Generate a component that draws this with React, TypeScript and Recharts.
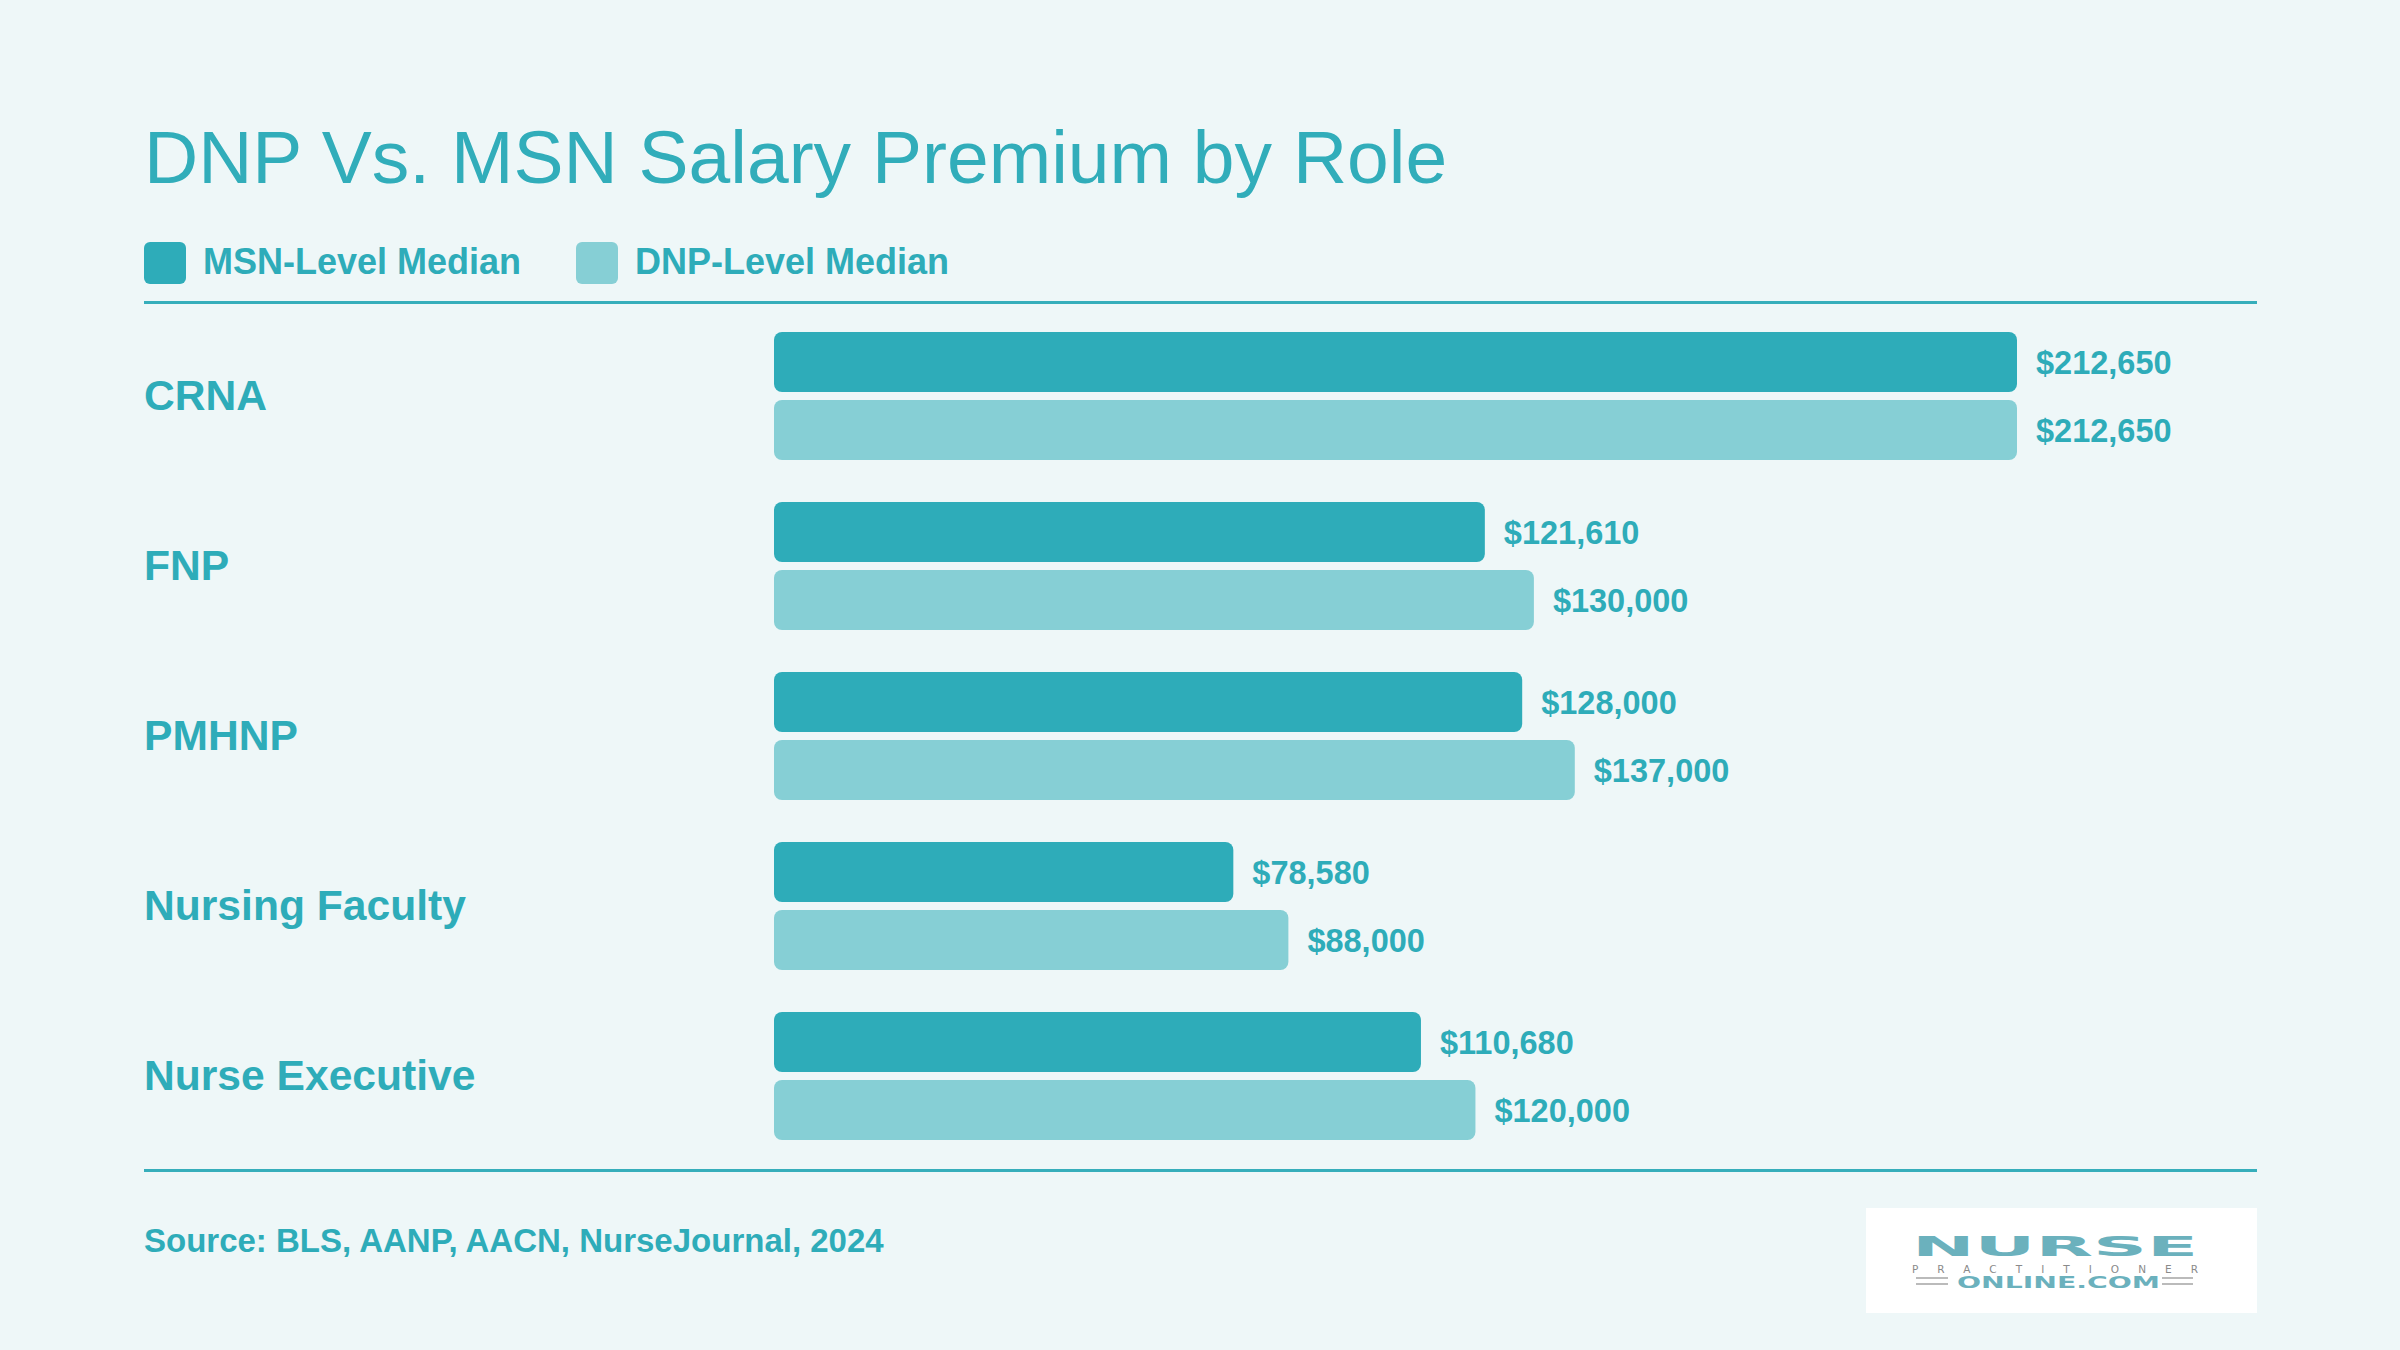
import React from 'react';
import { BarChart, Bar, XAxis, YAxis, LabelList } from 'recharts';

// Median salaries by role, MSN vs DNP
const ROLES = ['CRNA', 'FNP', 'PMHNP', 'Nursing Faculty', 'Nurse Executive'];
const MSN_MEDIAN = [212650, 121610, 128000, 78580, 110680];
const DNP_MEDIAN = [212650, 130000, 137000, 88000, 120000];

const SERIES_NAMES = ['MSN-Level Median', 'DNP-Level Median'];
const SOURCE_NOTE = 'Source: BLS, AANP, AACN, NurseJournal, 2024';

const TEAL = '#2EACB9';
const TEAL_LIGHT = '#86CFD5';
const BG = '#EEF7F8';
const FONT = '"Liberation Sans", Arial, Helvetica, sans-serif';

const data = ROLES.map((role, i) => ({
  role,
  msn: MSN_MEDIAN[i],
  dnp: DNP_MEDIAN[i],
}));

const money = (v: number) => '$' + v.toLocaleString('en-US');

const RoleTick = (props: any) => {
  const { y, payload } = props;
  return (
    <text x={144} y={y} dy={14} fill={TEAL} fontSize={42.6} fontWeight={700} fontFamily={FONT} textAnchor="start">
      {payload.value}
    </text>
  );
};

const Logo = () => (
  <div style={{ position: 'absolute', left: 1866, top: 1208, width: 391, height: 105, background: '#fff' }}>
    <svg width={391} height={105}>
      <text x={46} y={48} textLength={286} lengthAdjust="spacingAndGlyphs" fontSize={27} fontWeight={700}
        fontFamily='"DejaVu Sans", sans-serif' fill="#6BB1BD">NURSE</text>
      <text x={46} y={64.5} textLength={286} lengthAdjust="spacing" fontSize={10.5}
        fontFamily='"DejaVu Sans", sans-serif' fill="#8a8a8a">PRACTITIONER</text>
      <text x={91} y={80} textLength={203} lengthAdjust="spacingAndGlyphs" fontSize={16.5} fontWeight={700}
        fontFamily='"DejaVu Sans", sans-serif' fill="#6BB1BD">ONLINE.COM</text>
      <rect x={50} y={69} width={32} height={2} fill="#bbb" />
      <rect x={50} y={75} width={32} height={2} fill="#bbb" />
      <rect x={296} y={69} width={31} height={2} fill="#bbb" />
      <rect x={296} y={75} width={31} height={2} fill="#bbb" />
    </svg>
  </div>
);

const App: React.FC = () => {
  const legendColors = [TEAL, TEAL_LIGHT];
  const legendX = [144, 576];

  return (
    <div style={{ position: 'absolute', left: 0, top: 0, width: 2400, height: 1350, background: BG, fontFamily: FONT, overflow: 'hidden' }}>
      <div style={{ position: 'absolute', left: 144, top: 120, fontSize: 75, lineHeight: 1, color: '#31ADBA', whiteSpace: 'nowrap' }}>
        DNP Vs. MSN Salary Premium by Role
      </div>

      {SERIES_NAMES.map((name, i) => (
        <div key={name} style={{ position: 'absolute', left: legendX[i], top: 242, height: 42, display: 'flex', alignItems: 'center' }}>
          <div style={{ width: 42, height: 42, borderRadius: 6, background: legendColors[i] }} />
          <span style={{ marginLeft: 17, marginTop: -3, fontSize: 36, fontWeight: 700, color: TEAL, lineHeight: 1, whiteSpace: 'nowrap' }}>{name}</span>
        </div>
      ))}

      <div style={{ position: 'absolute', left: 144, top: 301, width: 2113, height: 3, background: '#36AEBB' }} />
      <div style={{ position: 'absolute', left: 144, top: 1169, width: 2113, height: 3, background: '#36AEBB' }} />

      <div style={{ position: 'absolute', left: 0, top: 0 }}>
        <BarChart
          width={2400}
          height={1350}
          data={data}
          layout="vertical"
          margin={{ top: 311, right: 383, bottom: 189, left: 0 }}
          barSize={60}
          barGap={8}
        >
          <XAxis type="number" domain={[0, 212650]} hide />
          <YAxis type="category" dataKey="role" width={774} axisLine={false} tickLine={false} tick={<RoleTick />} interval={0} />
          <Bar dataKey="msn" fill={TEAL} radius={8} isAnimationActive={false}>
            <LabelList dataKey="msn" position="right" offset={19} formatter={(v: any) => money(Number(v))}
              fill={TEAL} fontSize={32.5} fontWeight={700} fontFamily={FONT} />
          </Bar>
          <Bar dataKey="dnp" fill={TEAL_LIGHT} radius={8} isAnimationActive={false}>
            <LabelList dataKey="dnp" position="right" offset={19} formatter={(v: any) => money(Number(v))}
              fill={TEAL} fontSize={32.5} fontWeight={700} fontFamily={FONT} />
          </Bar>
        </BarChart>
      </div>

      <div style={{ position: 'absolute', left: 144, top: 1224, fontSize: 33, fontWeight: 700, lineHeight: 1, color: TEAL, whiteSpace: 'nowrap' }}>
        {SOURCE_NOTE}
      </div>

      <Logo />
    </div>
  );
};

export default App;
